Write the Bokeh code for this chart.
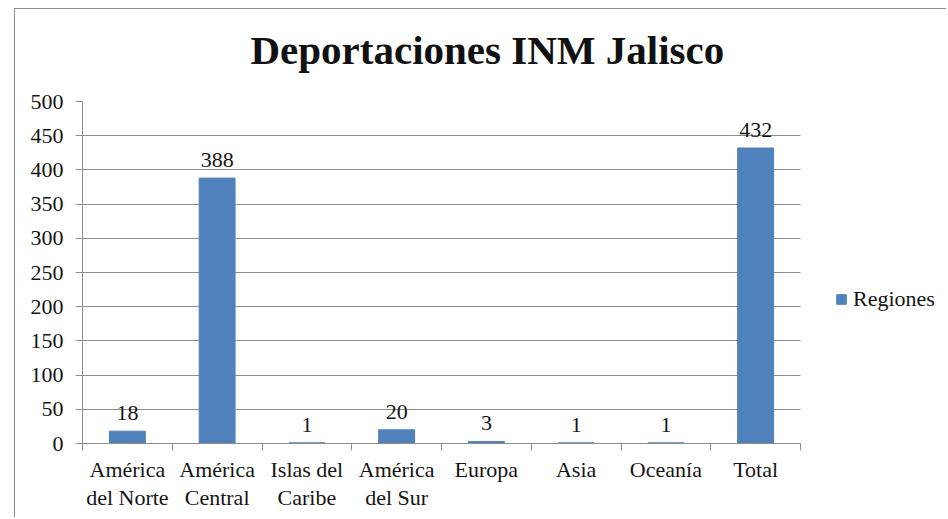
from bokeh.plotting import figure
from bokeh.models import Range1d, FixedTicker, Legend, LegendItem, ColumnDataSource, Title
from bokeh.core.properties import value
from bokeh.embed import file_html
from bokeh.resources import INLINE

categories = ["América\ndel Norte", "América\nCentral", "Islas del\nCaribe", "América\ndel Sur",
              "Europa", "Asia", "Oceanía", "Total"]
values = [18, 388, 1, 20, 3, 1, 1, 432]
y_ticks = [0, 50, 100, 150, 200, 250, 300, 350, 400, 450, 500]
series_name = "Regiones"
title_text = "Deportaciones INM Jalisco"

FONT = "'Liberation Serif', 'Times New Roman', serif"
FS = "22px"
TXT = "#141414"
GRID = "#8c8c8c"
BLUE = "#4F81BD"

n = len(categories)
centers = [i + 0.5 for i in range(n)]
bounds = list(range(n + 1))

# layout: category area is 718px, frame extends 865px to leave room for the legend
X_END = n * 865 / 718

src = ColumnDataSource(dict(x=centers, top=values, label=[str(v) for v in values]))

p = figure(width=932, height=509, output_backend="svg", toolbar_location=None, title=None,
           x_range=Range1d(0, X_END), y_range=Range1d(0, 500),
           min_border_left=67, min_border_right=0, min_border_top=92, min_border_bottom=75)
p.styles = {"margin-left": "14px", "margin-top": "8px",
            "border-left": f"1px solid {GRID}", "border-top": f"1px solid {GRID}"}

# spacer between the frame and the title, then the title itself
p.add_layout(Title(text=" ", text_font_size="1px", standoff=26), "above")
p.add_layout(Title(text=title_text, text_font=FONT, text_font_size="41px", text_font_style="bold",
                   text_color="#111111", align="left", offset=168, standoff=0), "above")

p.outline_line_color = None
p.background_fill_color = "white"
p.border_fill_color = "white"

r = p.vbar(x="x", top="top", width=0.4, source=src, fill_color=BLUE, line_color=BLUE)
p.text(x="x", y="top", text="label", source=src, text_font=value(FONT), text_font_size=FS,
       text_color=TXT, text_align="center", text_baseline="alphabetic", y_offset=-18)

# x axis
xa = p.xaxis[0]
xa.bounds = (0, n)
xa.ticker = FixedTicker(ticks=centers, minor_ticks=bounds)
xa.major_label_overrides = {c: lab for c, lab in zip(centers, categories)}
xa.major_tick_line_color = None
xa.minor_tick_line_color = GRID
xa.minor_tick_out = 7
xa.minor_tick_in = 0
xa.axis_line_color = GRID
xa.major_label_text_font = FONT
xa.major_label_text_font_size = FS
xa.major_label_text_color = TXT
xa.major_label_standoff = 6
xa.major_label_text_line_height = 1.14

# y axis
ya = p.yaxis[0]
ya.ticker = FixedTicker(ticks=y_ticks, minor_ticks=[])
ya.axis_line_color = GRID
ya.major_tick_line_color = GRID
ya.major_tick_out = 7
ya.major_tick_in = 0
ya.minor_tick_line_color = None
ya.major_label_text_font = FONT
ya.major_label_text_font_size = FS
ya.major_label_text_color = TXT
ya.major_label_standoff = 12

p.xgrid.grid_line_color = None
p.ygrid.grid_line_color = GRID
p.ygrid.grid_line_width = 1
p.ygrid.cross_bounds = (0, n)

legend = Legend(items=[LegendItem(label=series_name, renderers=[r])], location=(753, 131),
                glyph_width=12, glyph_height=12, label_standoff=6, padding=0, margin=0,
                border_line_color=None, background_fill_alpha=0,
                label_text_font=FONT, label_text_font_size=FS, label_text_color=TXT)
p.add_layout(legend, "center")

open("out.html", "w").write(file_html(p, INLINE))
